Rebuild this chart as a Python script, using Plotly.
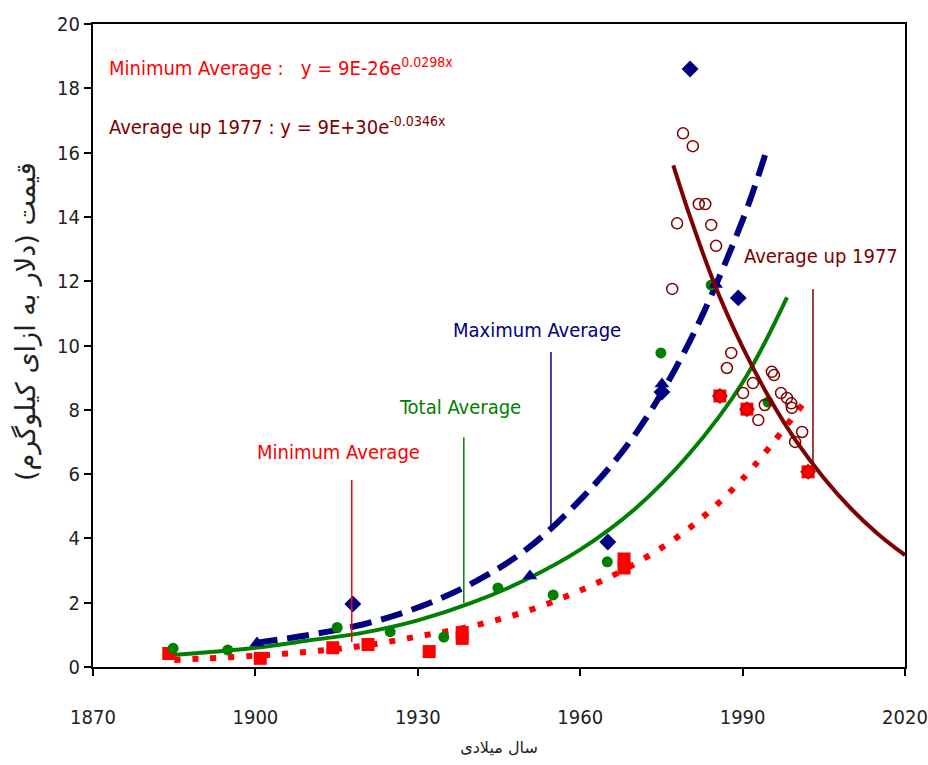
import plotly.graph_objects as go

# ---------------- data ----------------
# Minimum average (red squares)
MIN_YEARS = [1884.0, 1900.9, 1914.3, 1920.8, 1932.1, 1938.2, 1938.2, 1968.1, 1968.1, 1985.8, 1990.8, 2002.1]
MIN_VALUES = [0.42, 0.27, 0.60, 0.70, 0.48, 0.89, 1.07, 3.08, 3.36, 8.43, 8.02, 6.07]

# Total average (green circles)
TOTAL_YEARS = [1884.8, 1894.9, 1915.1, 1924.9, 1934.8, 1944.8, 1955.0, 1965.0, 1974.9, 1984.2, 1994.7]
TOTAL_VALUES = [0.58, 0.53, 1.23, 1.10, 0.93, 2.46, 2.24, 3.27, 9.77, 11.88, 8.24]

# Maximum average (navy diamonds / triangles)
MAX_YEARS = [1900.3, 1918.0, 1950.7, 1965.1, 1975.1, 1975.1, 1980.3, 1985.0, 1989.2]
MAX_VALUES = [0.75, 1.96, 2.83, 3.89, 8.55, 8.80, 18.6, 11.9, 11.48]
MAX_SYMBOLS = ["triangle-up", "diamond", "triangle-up", "diamond", "diamond", "triangle-up", "diamond", "triangle-up", "diamond"]

# Average after 1977 (maroon open circles)
UP77_YEARS = [1977.0, 1977.9, 1979.0, 1980.8, 1981.9, 1983.1, 1984.2, 1985.1, 1987.1, 1987.9, 1990.1,
              1991.9, 1992.9, 1994.1, 1995.4, 1995.8, 1997.1, 1998.2, 1999.0, 1999.1, 1999.7, 2001.0]
UP77_VALUES = [11.76, 13.8, 16.6, 16.2, 14.4, 14.4, 13.75, 13.1, 9.3, 9.77, 8.52,
               8.83, 7.68, 8.15, 9.18, 9.08, 8.52, 8.37, 8.2, 8.06, 7.0, 7.31]

# Trend lines
MIN_TREND_YEARS = [1885, 1890, 1900, 1910, 1920, 1930, 1940, 1950, 1960, 1970, 1980, 1990, 2001]
MIN_TREND = [0.22, 0.26, 0.35, 0.48, 0.66, 0.95, 1.27, 1.73, 2.38, 3.2, 4.3, 5.85, 8.15]

TOTAL_TREND_YEARS = [1885, 1890, 1900, 1910, 1920, 1930, 1940, 1950, 1960, 1970, 1980, 1990, 1998.2]
TOTAL_TREND = [0.37, 0.44, 0.6, 0.83, 1.07, 1.45, 2.0, 2.72, 3.65, 4.9, 6.6, 8.85, 11.5]

MAX_TREND_YEARS = [1900, 1910, 1920, 1930, 1940, 1950, 1960, 1970, 1980, 1990, 1994.3]
MAX_TREND = [0.75, 1.0, 1.33, 1.85, 2.6, 3.65, 5.2, 7.2, 10.05, 13.9, 16.0]

UP77_TREND_YEARS = [1977.2, 1980, 1985, 1990, 1995, 2000, 2005, 2010, 2015, 2020]
UP77_TREND = [15.6, 14.15, 11.83, 9.95, 8.35, 7.0, 5.88, 4.93, 4.14, 3.48]

X_TICKS = [1870, 1900, 1930, 1960, 1990, 2020]
Y_TICKS = [0, 2, 4, 6, 8, 10, 12, 14, 16, 18, 20]

# ---------------- styling ----------------
RED = "#FF0000"
GREEN = "#008000"
NAVY = "#000080"
MAROON = "#800000"
FONT = "DejaVu Sans Condensed, DejaVu Sans, sans-serif"

fig = go.Figure()

# trend lines
fig.add_trace(go.Scatter(x=MIN_TREND_YEARS, y=MIN_TREND, mode="lines",
                         line=dict(color=RED, width=6, dash="6px,12px", shape="spline"), hoverinfo="skip"))
fig.add_trace(go.Scatter(x=TOTAL_TREND_YEARS, y=TOTAL_TREND, mode="lines",
                         line=dict(color=GREEN, width=4, shape="spline"), hoverinfo="skip"))
fig.add_trace(go.Scatter(x=MAX_TREND_YEARS, y=MAX_TREND, mode="lines",
                         line=dict(color=NAVY, width=6, dash="22px,10px", shape="spline"), hoverinfo="skip"))

# markers
fig.add_trace(go.Scatter(x=MIN_YEARS, y=MIN_VALUES, mode="markers",
                         marker=dict(symbol="square", size=13, color=RED)))
late = [i for i, yr in enumerate(MIN_YEARS) if yr > 1980]
fig.add_trace(go.Scatter(x=[MIN_YEARS[i] for i in late], y=[MIN_VALUES[i] for i in late], mode="markers",
                         marker=dict(symbol="diamond-open", size=11, color="#B00000", line=dict(width=1.2))))
fig.add_trace(go.Scatter(x=TOTAL_YEARS, y=TOTAL_VALUES, mode="markers",
                         marker=dict(symbol="circle", size=11, color=GREEN)))
fig.add_trace(go.Scatter(x=MAX_YEARS, y=MAX_VALUES, mode="markers",
                         marker=dict(symbol=MAX_SYMBOLS, size=13, color=NAVY)))
fig.add_trace(go.Scatter(x=UP77_YEARS, y=UP77_VALUES, mode="markers",
                         marker=dict(symbol="circle-open", size=11, color=MAROON, line=dict(width=1.5))))

fig.add_trace(go.Scatter(x=UP77_TREND_YEARS, y=UP77_TREND, mode="lines",
                         line=dict(color=MAROON, width=4, shape="spline"), hoverinfo="skip"))

# pointer lines for the labels
pointers = [
    (1917.8, 0.78, 5.82, RED),
    (1938.5, 1.99, 7.15, GREEN),
    (1954.6, 4.42, 9.8, NAVY),
    (2003.0, 6.35, 11.76, MAROON),
]
for x, y0, y1, c in pointers:
    fig.add_shape(type="line", x0=x, x1=x, y0=y0, y1=y1, xref="x", yref="y",
                  line=dict(color=c, width=1.5))

labels = [
    ("Minimum Average", 1915.3, 6.69, RED),
    ("Total Average", 1937.8, 8.09, GREEN),
    ("Maximum Average", 1952.0, 10.48, NAVY),
    ("Average up 1977", 2004.4, 12.78, MAROON),
]
for txt, x, y, c in labels:
    fig.add_annotation(text=txt, x=x, y=y, xref="x", yref="y", showarrow=False,
                       font=dict(family=FONT, size=20, color=c), xanchor="center", yanchor="middle")

fig.add_annotation(text="Minimum Average :   y = 9E-26e<sup>0.0298x</sup>", x=1872.6, y=18.66,
                   xref="x", yref="y", showarrow=False, xanchor="left", yanchor="middle",
                   font=dict(family=FONT, size=20, color=RED))
fig.add_annotation(text="Average up 1977 : y = 9E+30e<sup>-0.0346x</sup>", x=1872.6, y=16.83,
                   xref="x", yref="y", showarrow=False, xanchor="left", yanchor="middle",
                   font=dict(family=FONT, size=20, color=MAROON))

# y-axis title (rotated text placed left of the plot area, as in the reference)
fig.add_annotation(text="قیمت (دلار به ازای کیلوگرم)", textangle=-90,
                   x=(26 - 93) / 812, y=(667 - 322) / 643, xref="paper", yref="paper",
                   xanchor="center", yanchor="middle", showarrow=False,
                   font=dict(family="DejaVu Sans", size=27, color="#222222"))

fig.update_layout(
    width=928, height=765,
    margin=dict(l=93, r=23, t=24, b=98, autoexpand=False),
    paper_bgcolor="white", plot_bgcolor="white",
    showlegend=False,
    font=dict(family=FONT, color="#222222"),
    xaxis=dict(range=[1870, 2020], tickvals=X_TICKS, ticktext=[str(v) for v in X_TICKS],
               showgrid=False, zeroline=False, showline=True, linecolor="black", linewidth=2,
               mirror=True, ticks="outside", ticklen=7, tickwidth=2, tickcolor="black",
               tickfont=dict(family=FONT, size=20, color="#222222"), ticklabelstandoff=24,
               ticklabeloverflow="allow", automargin=False,
               title=dict(text="سال میلادی", font=dict(family="DejaVu Sans", size=16, color="#222222"),
                          standoff=14)),
    yaxis=dict(range=[0, 20], tickvals=Y_TICKS, ticktext=[str(v) for v in Y_TICKS],
               showgrid=False, zeroline=False, showline=True, linecolor="black", linewidth=2,
               mirror=True, ticks="outside", ticklen=7, tickwidth=2, tickcolor="black",
               tickfont=dict(family=FONT, size=20, color="#222222"), ticklabeloverflow="allow",
               automargin=False),
)

fig.write_html("out.html", config={"displayModeBar": False},
               post_script="document.body.style.margin='0';")
